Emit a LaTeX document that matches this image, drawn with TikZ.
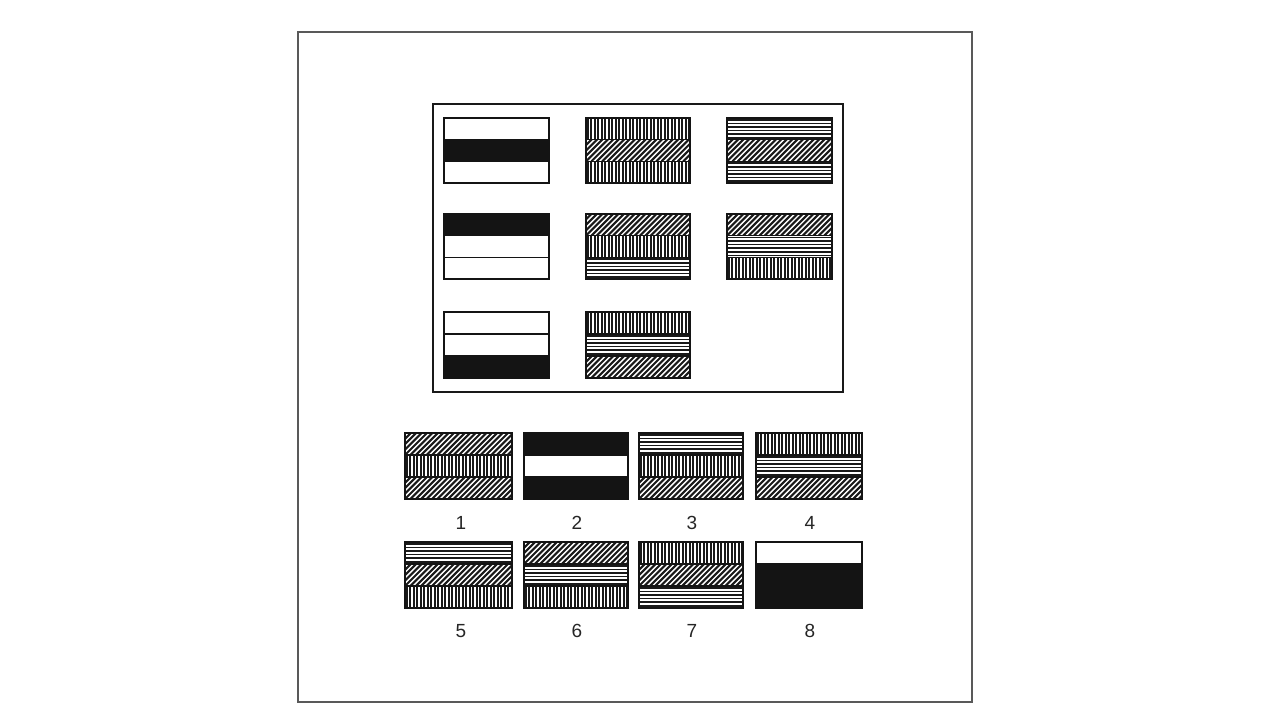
\documentclass[tikz,border=0pt]{standalone}
\usepackage{fontspec}
\setmainfont{Liberation Sans}
\tikzset{
  hatch/.style={line width=1.6pt, black!90},
  dhatch/.style={line width=2.1pt, black!90},
  sep/.style={line width=1.5pt, black!92},
  frame/.style={line width=1.9pt, black!92},
  digit/.style={font=\fontsize{19}{19}\selectfont, text=black!85, inner sep=0pt},
}
\newcommand\bandW[4]{}
\newcommand\bandB[4]{\fill[black!92] (#1,#2) rectangle (#3,#4);}
\newcommand\bandV[4]{\begin{scope}\clip (#1,#2) rectangle (#3,#4);
  \foreach \i in {0,...,32}{\draw[hatch] ({#1+1.75+3.5*\i},#2) -- ({#1+1.75+3.5*\i},#4);}\end{scope}}
\newcommand\bandH[4]{\begin{scope}\clip (#1,#2) rectangle (#3,#4);
  \foreach \i in {0,...,7}{\draw[hatch] (#1,{#2+1.8+3.6*\i}) -- (#3,{#2+1.8+3.6*\i});}\end{scope}}
\newcommand\bandD[4]{\begin{scope}\clip (#1,#2) rectangle (#3,#4);
  \foreach \i in {-6,...,22}{\draw[dhatch] ({#1+5.4*\i},#4) -- ++(30,-30);}\end{scope}}
\newcommand\band[5]{\csname band#5\endcsname{#1}{#2}{#3}{#4}}
% x1 y1 x2 y2 top mid bottom
\newcommand\tri[7]{%
  \pgfmathsetmacro\ya{#2+(#4-#2)/3}%
  \pgfmathsetmacro\yb{#2+2*(#4-#2)/3}%
  \band{#1}{#2}{#3}{\ya}{#5}%
  \band{#1}{\ya}{#3}{\yb}{#6}%
  \band{#1}{\yb}{#3}{#4}{#7}%
  \draw[sep] (#1,\ya) -- (#3,\ya);
  \draw[sep] (#1,\yb) -- (#3,\yb);
  \draw[frame] (#1,#2) rectangle (#3,#4);}
\begin{document}
\begin{tikzpicture}[x=1pt,y=-1pt]
\useasboundingbox (0,0) rectangle (1280,720);
\fill[white] (0,0) rectangle (1280,720);
% outer frame
\draw[line width=1.4pt, black!65] (298,32) rectangle (972,702);
% matrix box
\draw[line width=2.8pt, black!90] (433,104) rectangle (843,392);
% matrix row 1
\tri{444}{118}{549}{183}{W}{B}{W}
\tri{586}{118}{690}{183}{V}{D}{V}
\tri{727}{118}{832}{183}{H}{D}{H}
% row 2
\tri{444}{214}{549}{279}{B}{W}{W}
\tri{586}{214}{690}{279}{D}{V}{H}
\tri{727}{214}{832}{279}{D}{H}{V}
% row 3
\tri{444}{312}{549}{378}{W}{W}{B}
\tri{586}{312}{690}{378}{V}{H}{D}
% options row 1
\tri{405}{433}{512}{499}{D}{V}{D}
\tri{524}{433}{628}{499}{B}{W}{B}
\tri{639}{433}{743}{499}{H}{V}{D}
\tri{756}{433}{862}{499}{V}{H}{D}
% options row 2
\tri{405}{542}{512}{608}{H}{D}{V}
\tri{524}{542}{628}{608}{D}{H}{V}
\tri{639}{542}{743}{608}{V}{D}{H}
\tri{756}{542}{862}{608}{W}{B}{B}
% labels
\node[digit] (l1) at (461,523) {1};
\node[digit] (l2) at (577,523) {2};
\node[digit] (l3) at (692,523) {3};
\node[digit] (l4) at (810,523) {4};
\node[digit] (l5) at (461,631) {5};
\node[digit] (l6) at (577,631) {6};
\node[digit] (l7) at (692,631) {7};
\node[digit] (l8) at (810,631) {8};
\end{tikzpicture}
\end{document}
